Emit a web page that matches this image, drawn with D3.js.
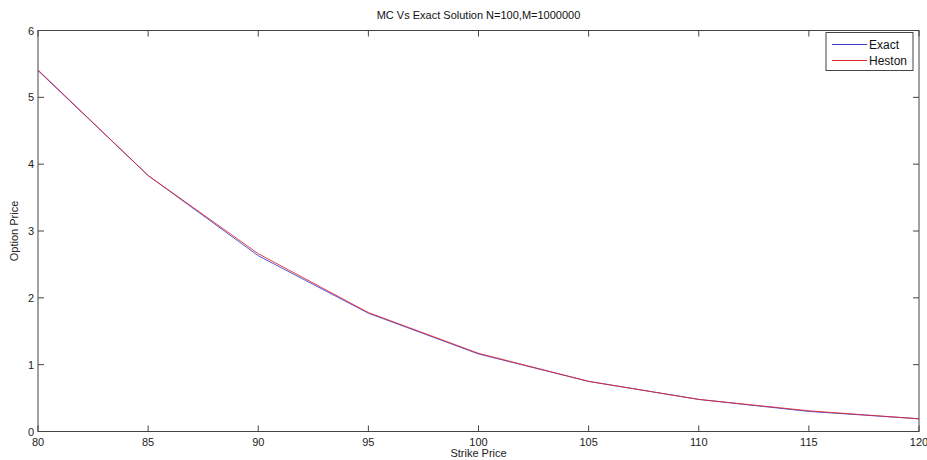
<!DOCTYPE html>
<html>
<head>
<meta charset="utf-8">
<script src="https://cdn.jsdelivr.net/npm/d3@7"></script>
<style>
  body { margin: 0; background: #fff; }
  svg { font-family: "Liberation Sans", Arial, sans-serif; }
</style>
</head>
<body>
<div id="graphBox"></div>
<script>
// strike prices and option prices
const strikes = [80, 85, 90, 95, 100, 105, 110, 115, 120];
const exactPrices = [5.40, 3.83, 2.63, 1.77, 1.16, 0.75, 0.48, 0.30, 0.19];
const hestonPrices = [5.41, 3.83, 2.66, 1.78, 1.17, 0.75, 0.48, 0.31, 0.19];
const xTicks = [80, 85, 90, 95, 100, 105, 110, 115, 120];
const yTicks = [0, 1, 2, 3, 4, 5, 6];

const series = [
    {name: "Exact", values: exactPrices, color: "#3a3ad0"},
    {name: "Heston", values: hestonPrices, color: "#e0202a"}
];

const W = 927, H = 460;
const margin = {top: 30.5, right: 8, bottom: 28.5, left: 38};
const width = W - margin.left - margin.right;
const height = H - margin.top - margin.bottom;
const axisColor = "#444";

const svg = d3.select("#graphBox").append("svg")
    .attr("width", W)
    .attr("height", H);

const g = svg.append("g")
    .attr("transform", `translate(${margin.left}, ${margin.top})`);

const x = d3.scaleLinear().domain([80, 120]).range([0, width]);
const y = d3.scaleLinear().domain([0, 6]).range([height, 0]);

// box
g.append("rect")
    .attr("width", width)
    .attr("height", height)
    .attr("fill", "none")
    .attr("stroke", axisColor)
    .attr("stroke-width", 1);

// x ticks (inward, mirrored on top)
xTicks.forEach((t) => {
    g.append("line").attr("x1", x(t)).attr("x2", x(t)).attr("y1", height).attr("y2", height - 6)
        .attr("stroke", axisColor);
    g.append("line").attr("x1", x(t)).attr("x2", x(t)).attr("y1", 0).attr("y2", 6)
        .attr("stroke", axisColor);
    g.append("text")
        .attr("x", x(t))
        .attr("y", height + 14)
        .attr("text-anchor", "middle")
        .attr("font-size", 11)
        .attr("fill", "#222")
        .text(t);
});

// y ticks
yTicks.forEach((t) => {
    g.append("line").attr("x1", 0).attr("x2", 6).attr("y1", y(t)).attr("y2", y(t))
        .attr("stroke", axisColor);
    g.append("line").attr("x1", width).attr("x2", width - 6).attr("y1", y(t)).attr("y2", y(t))
        .attr("stroke", axisColor);
    g.append("text")
        .attr("x", -4)
        .attr("y", y(t) + 4)
        .attr("text-anchor", "end")
        .attr("font-size", 11)
        .attr("fill", "#222")
        .text(t);
});

// lines
const valueLine = (vals) => d3.line()
    .x((d, i) => x(strikes[i]))
    .y((d) => y(d))(vals);

series.forEach((s) => {
    g.append("path")
        .attr("d", valueLine(s.values))
        .attr("fill", "none")
        .attr("stroke", s.color)
        .attr("stroke-width", 1)
        .attr("opacity", 0.85);
});

// title and axis labels
svg.append("text")
    .attr("x", margin.left + width / 2)
    .attr("y", 19)
    .attr("text-anchor", "middle")
    .attr("font-size", 11)
    .attr("fill", "#111")
    .text("MC Vs Exact Solution N=100,M=1000000");

svg.append("text")
    .attr("x", margin.left + width / 2)
    .attr("y", 457)
    .attr("text-anchor", "middle")
    .attr("font-size", 11)
    .attr("fill", "#222")
    .text("Strike Price");

svg.append("text")
    .attr("transform", `translate(18, ${margin.top + height / 2}) rotate(-90)`)
    .attr("text-anchor", "middle")
    .attr("font-size", 11)
    .attr("fill", "#222")
    .text("Option Price");

// legend
const legend = svg.append("g").attr("transform", "translate(826, 32.5)");
legend.append("rect")
    .attr("width", 87)
    .attr("height", 38)
    .attr("fill", "#fff")
    .attr("stroke", axisColor);
series.forEach((s, i) => {
    legend.append("line")
        .attr("x1", 6).attr("x2", 41)
        .attr("y1", 12 + i * 16).attr("y2", 12 + i * 16)
        .attr("stroke", s.color);
    legend.append("text")
        .attr("x", 43)
        .attr("y", 16 + i * 16)
        .attr("font-size", 12)
        .attr("fill", "#111")
        .text(s.name);
});
</script>
</body>
</html>
